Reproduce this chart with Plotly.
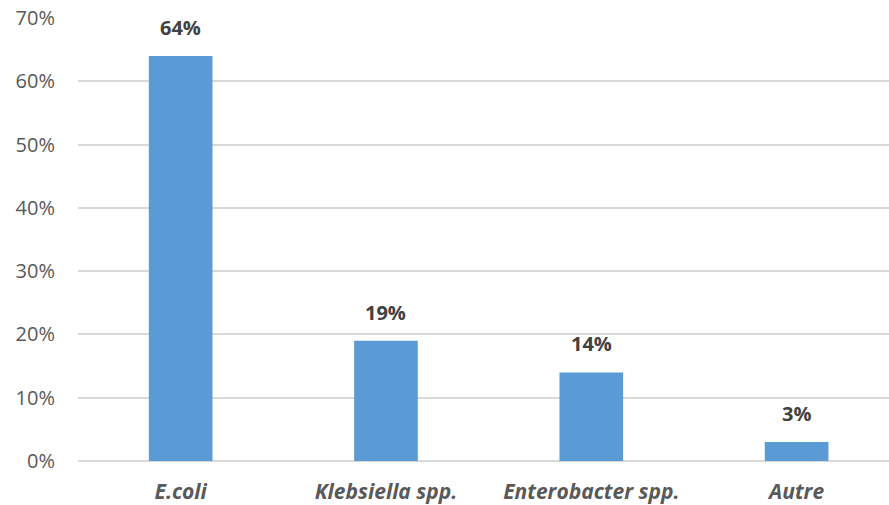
import plotly.graph_objects as go

categories = ["E.coli", "Klebsiella spp.", "Enterobacter spp.", "Autre"]
values = [64, 19, 14, 3]
tick_vals = [0, 10, 20, 30, 40, 50, 60, 70]
tick_text = ["0%", "10%", "20%", "30%", "40%", "50%", "60%", "70%"]

FONT = "Open Sans"

fig = go.Figure()
fig.add_trace(go.Bar(
    x=list(range(len(categories))),
    y=values,
    width=0.31,
    marker=dict(color="#5B9BD5", line=dict(width=0)),
    hoverinfo="skip",
))

for i, v in enumerate(values):
    fig.add_annotation(
        x=i, y=v, text=f"<b>{v}%</b>", showarrow=False,
        yanchor="bottom", yshift=13,
        font=dict(family=FONT, size=20, color="#404040"),
    )

fig.update_layout(
    width=889, height=505,
    margin=dict(l=78, r=0, t=18, b=44),
    paper_bgcolor="white", plot_bgcolor="white",
    showlegend=False,
    bargap=0.69,
    xaxis=dict(
        range=[-0.5, 3.45],
        tickvals=list(range(len(categories))),
        ticktext=[f"<b><i>{c}</i></b>" for c in categories],
        tickfont=dict(family=FONT, size=21, color="#595959"),
        showgrid=False, zeroline=False,
        showline=False, ticks="", ticklabelstandoff=16,
    ),
    yaxis=dict(
        range=[0, 70],
        tickvals=tick_vals, ticktext=tick_text,
        tickfont=dict(family=FONT, size=20, color="#595959"),
        showgrid=True, gridcolor="#D9D9D9", gridwidth=1.5,
        zeroline=True, zerolinecolor="#D9D9D9", zerolinewidth=1.5,
        showline=False, ticks="", ticklabelstandoff=22,
    ),
)

fig.write_html("out.html")
